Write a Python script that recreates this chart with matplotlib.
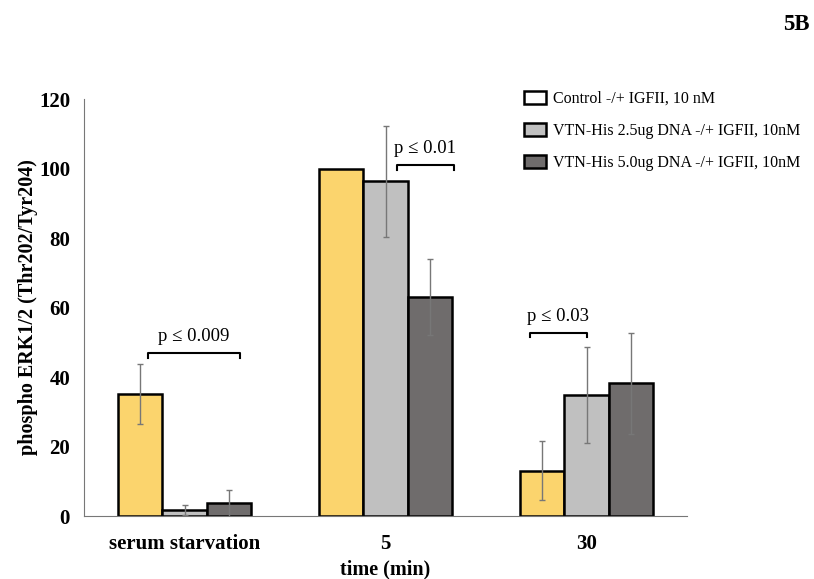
import numpy as np
import matplotlib.pyplot as plt
from matplotlib.patches import Patch

plt.rcParams['font.family'] = ['Liberation Serif', 'DejaVu Serif']

# data
groups = ['serum starvation', '5', '30']
series = ['Control -/+ IGFII, 10 nM',
          'VTN-His 2.5ug DNA -/+ IGFII, 10nM',
          'VTN-His 5.0ug DNA -/+ IGFII, 10nM']
control = [35, 100, 13]
control_err = [8.6, np.nan, 8.5]
vtn25 = [1.8, 96.3, 34.8]
vtn25_err = [1.5, 16, 13.7]
vtn50 = [3.6, 63, 38.2]
vtn50_err = [3.9, 11, 14.6]

# significance brackets: (x start, x end, y, label)
brackets = [(-0.18, 0.276, 46.8, 'p ≤ 0.009'),
            (1.057, 1.34, 100.9, 'p ≤ 0.01'),
            (1.72, 2.0, 52.6, 'p ≤ 0.03')]

fig = plt.figure(figsize=(8.14, 5.79), dpi=100)
ax = fig.add_axes([0.1032, 0.1088, 0.7408, 0.7202])

x = np.arange(len(groups))
w = 0.222
cols = ['#FBD46D', '#C0C0C0', '#6F6C6C']
vals = [control, vtn25, vtn50]
errs = [control_err, vtn25_err, vtn50_err]
for i in range(3):
    ax.bar(x + (i - 1) * w, vals[i], w, color=cols[i], edgecolor='black', linewidth=1.8, zorder=2)
    ax.errorbar(x + (i - 1) * w, vals[i], yerr=errs[i], fmt='none', ecolor='#777777',
                elinewidth=1, capsize=2, capthick=1, zorder=3)

for x0, x1, y, lab in brackets:
    ax.plot([x0, x0, x1, x1], [y - 1.2, y, y, y - 1.2], color='black', lw=1.5, zorder=4)
    ax.text((x0 + x1) / 2, y + 2.3, lab, ha='center', va='bottom', fontsize=13.5)

ax.set_xlim(-0.5, 2.5)
ax.set_ylim(0, 120)
ax.set_yticks(range(0, 121, 20))
ax.set_xticks(x)
ax.set_xticklabels(groups, fontsize=15, fontweight='bold')
ax.tick_params(axis='y', length=0, labelsize=15, pad=10)
ax.tick_params(axis='x', length=0, labelsize=15, pad=13)
for t in ax.get_yticklabels():
    t.set_fontweight('bold')
ax.spines['top'].set_visible(False)
ax.spines['right'].set_visible(False)
ax.spines['left'].set_color('#777777')
ax.spines['bottom'].set_color('#777777')
ax.set_xlabel('time (min)', fontsize=14.5, fontweight='bold', labelpad=4)
ax.set_ylabel('phospho ERK1/2 (Thr202/Tyr204)', fontsize=14.5, fontweight='bold', labelpad=1)

handles = [Patch(facecolor=c, edgecolor='black', linewidth=1.8) for c in ['white', cols[1], cols[2]]]
fig.legend(handles, series, loc='upper left', bbox_to_anchor=(0.626, 0.868), frameon=False,
           fontsize=11.5, labelspacing=1.0, handlelength=1.35, handleheight=0.9, handletextpad=0.5)

fig.text(0.995, 0.975, '5B', ha='right', va='top', fontsize=16.5, fontweight='bold')

plt.savefig('out.png', dpi=100)
